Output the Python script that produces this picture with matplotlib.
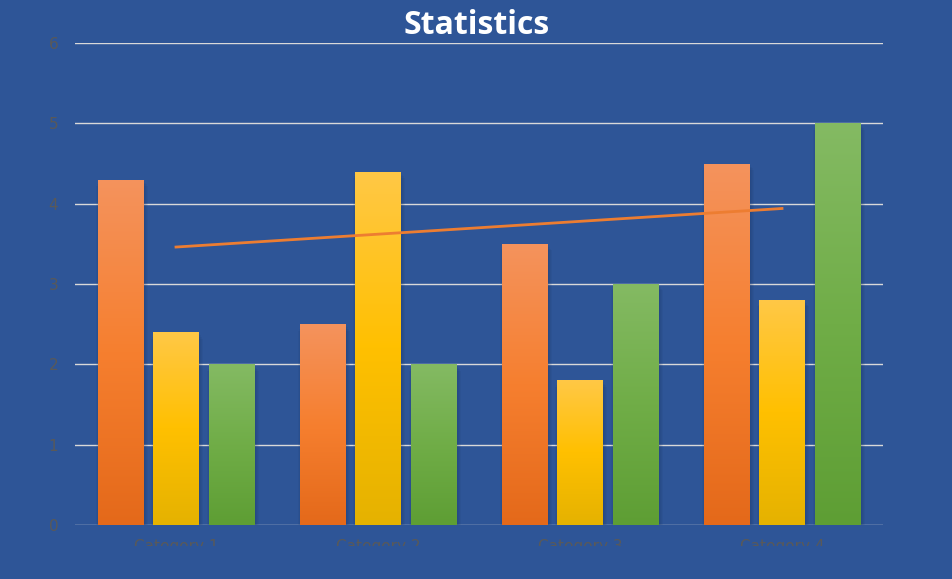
import numpy as np
import matplotlib
matplotlib.use("Agg")
import matplotlib.pyplot as plt
import matplotlib.patches as mpatches
from matplotlib.colors import LinearSegmentedColormap

categories = ["Category 1", "Category 2", "Category 3", "Category 4"]
series1 = [4.3, 2.5, 3.5, 4.5]
series2 = [2.4, 4.4, 1.8, 2.8]
series3 = [2.0, 2.0, 3.0, 5.0]
yticks = [0, 1, 2, 3, 4, 5, 6]

bg = "#2E5597"
# top, middle, bottom of each gradient
grads = [
    ["#F4935D", "#F67F2F", "#E4691A"],
    ["#FFC846", "#FFC000", "#E5B200"],
    ["#84BA63", "#70AD47", "#5E9E34"],
]

fig = plt.figure(figsize=(9.53, 5.79), dpi=100, facecolor=bg)
ax = fig.add_axes([75 / 953, 54 / 579, 808 / 953, 482 / 579])
ax.set_facecolor(bg)

x = np.arange(len(categories))
width = 0.223
step = 0.275

for i, vals in enumerate([series1, series2, series3]):
    cmap = LinearSegmentedColormap.from_list("g%d" % i, grads[i][::-1])
    bars = ax.bar(x + (i - 1) * step, vals, width, color="none", zorder=3)
    for b in bars:
        bx, by = b.get_x(), b.get_y()
        bw, bh = b.get_width(), b.get_height()
        # soft shadow on the sides
        for k in range(4):
            pad = 0.003 + k * 0.005
            sh = mpatches.Rectangle((bx - pad + 0.006, by), bw + 2 * pad, bh - 0.02 - k * 0.02,
                                    facecolor="#1a2f5a", edgecolor="none", alpha=0.08, zorder=2)
            ax.add_patch(sh)
        grad = np.linspace(0, 1, 256).reshape(-1, 1)
        im = ax.imshow(grad, cmap=cmap, aspect="auto", origin="lower",
                       extent=[bx, bx + bw, by, by + bh], zorder=3)
        im.set_clip_path(b)

# linear trendline for series 1
coef = np.polyfit(x, series1, 1)
ax.plot(x, np.polyval(coef, x), color="#ED7D31", linewidth=2, zorder=4)

ax.set_xlim(-0.5, 3.5)
ax.set_ylim(0, 6)
ax.set_yticks(yticks)
ax.set_xticks(x)
ax.set_xticklabels(categories)
ax.yaxis.grid(True, color="#D9D9D9", linewidth=1)
ax.set_axisbelow(True)
for s in ax.spines.values():
    s.set_visible(False)
ax.tick_params(axis="both", length=0, colors="#595959", labelsize=11)
ax.tick_params(axis="x", pad=10, labelsize=11)
ax.tick_params(axis="y", pad=12)

fig.text(0.5, 1 - 26 / 579, "Statistics", ha="center", va="center",
         color="white", fontsize=23, fontweight="bold", family="Open Sans")

# the category labels are cut off at the bottom of the chart area
fig.patches.append(mpatches.Rectangle((0, 0), 1, 33 / 579, transform=fig.transFigure,
                                      facecolor=bg, edgecolor="none", zorder=10))

fig.savefig("out.png", dpi=100, facecolor=bg)
